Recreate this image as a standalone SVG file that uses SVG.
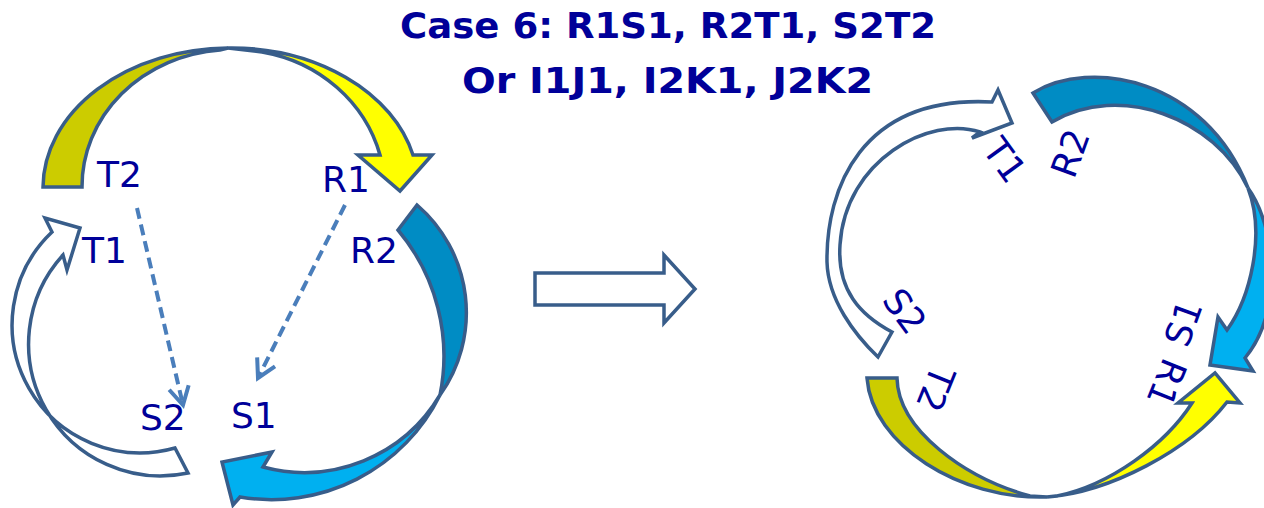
<svg xmlns="http://www.w3.org/2000/svg" width="1264" height="508" viewBox="0 0 1264 508">
<defs>
<style>
.sh{stroke:#385D8A;stroke-width:3.5;stroke-linejoin:miter}
.lbl{font-family:"DejaVu Sans",Verdana,sans-serif;font-size:36px;fill:#000099}
.ttl{font-family:"DejaVu Sans",Verdana,sans-serif;font-size:35px;font-weight:bold;fill:#000099}
.dash{stroke:#4A7EBB;stroke-width:4;stroke-dasharray:11 6;fill:none}
</style>
<marker id="chev" markerUnits="userSpaceOnUse" markerWidth="40" markerHeight="40" refX="0" refY="0" orient="auto" overflow="visible">
<path d="M-18,-10 L0,0 L-18,10" fill="none" stroke="#4A7EBB" stroke-width="4"/>
</marker>
</defs>
<rect width="1264" height="508" fill="#FFFFFF"/>
<g id="title">
<text class="ttl" x="668" y="38" text-anchor="middle" textLength="536" lengthAdjust="spacingAndGlyphs">Case 6: R1S1, R2T1, S2T2</text>
<text class="ttl" x="667.5" y="93" text-anchor="middle" textLength="411" lengthAdjust="spacingAndGlyphs">Or I1J1, I2K1, J2K2</text>
</g>
<g id="left-T2-R1-arrow">
<path class="sh" fill="#CCCC00" d="M43,187 A187,140 0 0 1 228,48 L220,50 A150,137 0 0 0 82,187 Z"/>
<path class="sh" fill="#FFFF00" d="M228,48 A187,140 0 0 1 413,155 L432,155 L400,191 L358,155 L380,155 A150,142 0 0 0 262,52 Z"/>
</g>
<g id="left-R2-S1-arrow">
<path class="sh" fill="#008CC4" d="M398,230 L417,205 A142,142 0 0 1 440,395 A196,196 0 0 0 398,230 Z"/>
<path class="sh" fill="#00B0F0" d="M440,395 A188,188 0 0 1 240,497 L233,505 L222,462 L272,452 L263,467 A158,158 0 0 0 440,395 Z"/>
</g>
<g id="left-S2-T1-arrow">
<path class="sh" fill="#FFFFFF" d="M175,448 L188,473 A132,132 0 0 1 63,255 L67,270 L80,228 L45,218 L52,232 A128,128 0 0 0 175,448 Z"/>
</g>
<g id="left-labels">
<text class="lbl" x="97" y="187">T2</text>
<text class="lbl" x="322" y="192">R1</text>
<text class="lbl" x="82" y="263">T1</text>
<text class="lbl" x="350" y="263">R2</text>
<text class="lbl" x="140" y="430">S2</text>
<text class="lbl" x="231" y="428">S1</text>
</g>
<g id="connectors">
<line class="dash" x1="137" y1="208" x2="183" y2="405" marker-end="url(#chev)"/>
<line class="dash" x1="345" y1="205" x2="258" y2="378" marker-end="url(#chev)"/>
</g>
<g id="transform-arrow">
<path class="sh" fill="#FFFFFF" stroke-width="4" d="M535,273 L664,273 L664,255 L695,289 L664,323 L664,305 L535,305 Z"/>
</g>
<g id="right-S2-T1-arrow">
<path class="sh" fill="#FFFFFF" d="M892,332 L878,357 C855,335 828,300 827,262 C826,190 860,95 992,102 L998,90 L1012,123 L972,138 L980,132 C930,115 845,160 840,245 C837,290 860,315 892,332 Z"/>
</g>
<g id="right-R2-S1-arrow">
<path class="sh" fill="#008CC4" d="M1052,122 L1033,93 C1090,58 1205,78 1248,188 C1215,118 1120,82 1052,122 Z"/>
<path class="sh" fill="#00B0F0" d="M1248,188 C1275,225 1285,310 1245,358 L1253,371 L1210,365 L1218,317 L1227,330 C1250,298 1266,235 1248,188 Z"/>
</g>
<g id="right-T2-R1-arrow">
<path class="sh" fill="#CCCC00" d="M867,378 L897,378 C898,430 965,478 1030,496 L1047,497 C960,500 872,445 867,378 Z"/>
<path class="sh" fill="#FFFF00" d="M1047,497 C1110,492 1190,450 1227,402 L1240,403 L1215,373 L1178,403 L1192,403 C1165,445 1110,485 1057,496 Z"/>
</g>
<g id="right-labels">
<text class="lbl" text-anchor="middle" transform="translate(1005,160) rotate(54)" y="13">T1</text>
<text class="lbl" text-anchor="middle" transform="translate(1070,153) rotate(-70)" y="13">R2</text>
<text class="lbl" text-anchor="middle" transform="translate(905,311) rotate(54)" y="13">S2</text>
<text class="lbl" text-anchor="middle" transform="translate(936,389) rotate(112)" y="13">T2</text>
<text class="lbl" text-anchor="middle" transform="translate(1183,323) rotate(-70)" y="13">S1</text>
<text class="lbl" text-anchor="middle" transform="translate(1167,383) rotate(112)" y="13">R1</text>
</g>
</svg>
